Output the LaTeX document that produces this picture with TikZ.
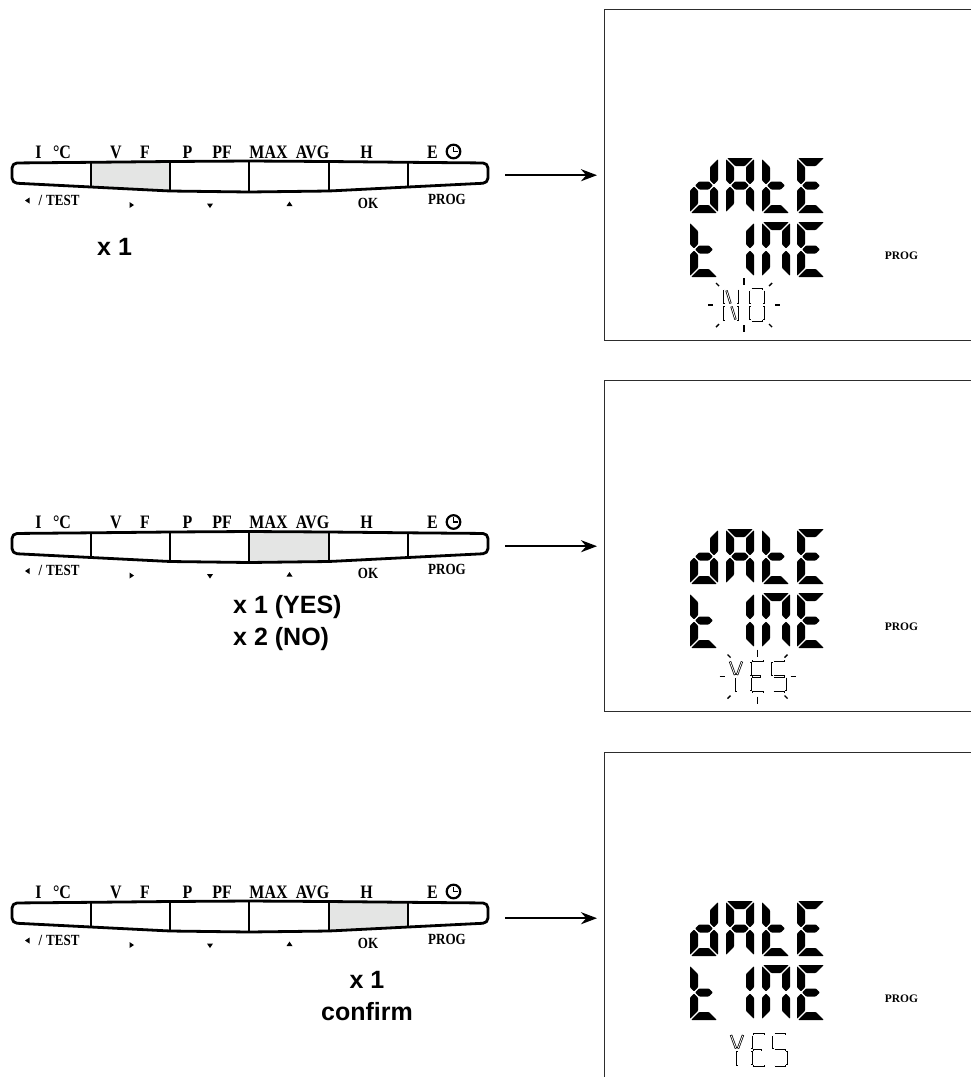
\documentclass[tikz,border=0pt]{standalone}
\usepackage{fontspec}
\setmainfont{Liberation Serif}
\newfontfamily\keyfont[FakeStretch=0.84]{Liberation Serif}
\newfontfamily\cntfont{Liberation Sans}
\usetikzlibrary{arrows.meta,calc}
\definecolor{keygray}{RGB}{228,229,228}
\definecolor{boxline}{RGB}{45,45,45}

\tikzset{
  kpline/.style={line width=2.8pt, line join=round},
  toplab/.style={font=\keyfont\bfseries\fontsize{19}{19}\selectfont, anchor=base, inner sep=0pt},
  botlab/.style={font=\keyfont\bfseries\fontsize{15.5}{15.5}\selectfont, anchor=base, inner sep=0pt},
  cnt/.style={font=\cntfont\bfseries\fontsize{25}{30}\selectfont, inner sep=0pt},
  lcdbox/.style={draw=boxline, line width=1.4pt, minimum width=372pt, minimum height=331pt, anchor=north west, inner sep=0pt},
  arr/.style={line width=2.2pt, -{Stealth[length=16pt,width=12pt]}},
  lcdlab/.style={font=\bfseries\fontsize{11.5}{11.5}\selectfont, anchor=base, inner sep=0pt},
  bseg/.style={fill=black, rounded corners=0.8pt},
  tsegout/.style={line width=2.3pt},
  tsegin/.style={white, line width=0.8pt, shorten <=0.75pt, shorten >=0.75pt},
  ray/.style={line width=1.4pt},
}

% big 7-segment pieces (local coords, y down, digit 28 x 55)
\newcommand\sgA{\fill[bseg] (1.1,0) -- (26.9,0) -- (18.9,8) -- (9.1,8) -- cycle;}
\newcommand\sgD{\fill[bseg] (1.1,55) -- (26.9,55) -- (18.9,47) -- (9.1,47) -- cycle;}
\newcommand\sgF{\fill[bseg] (0,1.1) -- (8,9.1) -- (8,22.4) -- (4,26.4) -- (0,22.4) -- cycle;}
\newcommand\sgE{\fill[bseg] (0,53.9) -- (8,45.9) -- (8,32.6) -- (4,28.6) -- (0,32.6) -- cycle;}
\newcommand\sgB{\fill[bseg] (28,1.1) -- (20,9.1) -- (20,22.4) -- (24,26.4) -- (28,22.4) -- cycle;}
\newcommand\sgC{\fill[bseg] (28,53.9) -- (20,45.9) -- (20,32.6) -- (24,28.6) -- (28,32.6) -- cycle;}
\newcommand\sgG{\fill[bseg] (5.1,27.5) -- (9.1,23.5) -- (18.9,23.5) -- (22.9,27.5) -- (18.9,31.5) -- (9.1,31.5) -- cycle;}
\newcommand\dgt[2]{\begin{scope}[shift={#1}]#2\end{scope}}

% thin outlined segments
\newcommand\tl[2]{\draw[tsegout] #1 -- #2; \draw[tsegin] #1 -- #2;}
\newcommand\thinN[1]{\begin{scope}[shift={#1}]
  \tl{(1.2,1.5)}{(1.2,16)}\tl{(1.2,18)}{(1.2,32.5)}
  \tl{(14.8,1.5)}{(14.8,16)}\tl{(14.8,18)}{(14.8,32.5)}
  \tl{(3.5,2.5)}{(7.5,15.5)}\tl{(8.5,18.5)}{(12.5,31.5)}\end{scope}}
\newcommand\thinO[1]{\begin{scope}[shift={#1}]
  \tl{(2.5,1.2)}{(13.5,1.2)}\tl{(2.5,32.8)}{(13.5,32.8)}
  \tl{(1.2,2.5)}{(1.2,16)}\tl{(1.2,18)}{(1.2,31.5)}
  \tl{(14.8,2.5)}{(14.8,16)}\tl{(14.8,18)}{(14.8,31.5)}\end{scope}}
\newcommand\thinY[1]{\begin{scope}[shift={#1}]
  \tl{(2,2)}{(7,15.5)}\tl{(14,2)}{(9,15.5)}\tl{(8,18)}{(8,32.5)}\end{scope}}
\newcommand\thinE[1]{\begin{scope}[shift={#1}]
  \tl{(1.2,2.5)}{(1.2,16)}\tl{(1.2,18)}{(1.2,31.5)}
  \tl{(2.5,1.2)}{(14,1.2)}\tl{(2.5,17)}{(11,17)}\tl{(2.5,32.8)}{(14,32.8)}\end{scope}}
\newcommand\thinS[1]{\begin{scope}[shift={#1}]
  \tl{(2.5,1.2)}{(13.5,1.2)}\tl{(1.2,2.5)}{(1.2,16)}\tl{(2.5,17)}{(13.5,17)}
  \tl{(14.8,18)}{(14.8,31.5)}\tl{(2.5,32.8)}{(13.5,32.8)}\end{scope}}
\newcommand\rays[3]{\begin{scope}[shift={#1}]
  \draw[ray] (-#2-5,0) -- (-#2,0); \draw[ray] (#2,0) -- (#2+5,0);
  \draw[ray] (0,-#3-7) -- (0,-#3); \draw[ray] (0,#3) -- (0,#3+7);
  \draw[ray] (-#2+6,-#3+1) -- (-#2+3,-#3-2); \draw[ray] (#2-6,-#3+1) -- (#2-3,-#3-2);
  \draw[ray] (-#2+6,#3-1) -- (-#2+3,#3+2); \draw[ray] (#2-6,#3-1) -- (#2-3,#3+2);
\end{scope}}

\newcommand\keypad[3]{\begin{scope}[shift={(0,#1)}]
  \fill[keygray] #3;
  \draw[kpline, rounded corners=5pt] (12,173) -- (12,163) -- (91,162.3) -- (170,161.5) -- (249,161) -- (329,161.5) -- (408,162.3) -- (488,163) -- (488,183) -- (408,187) -- (329,191) -- (249,192) -- (170,191) -- (91,187) -- (12,183) -- cycle;
  \draw[kpline] (91,162.3) -- (91,187) (170,161.5) -- (170,191) (249,161) -- (249,192) (329,161.5) -- (329,191) (408,162.3) -- (408,187);
  \node[toplab] at (38.5,158) {I};
  \node[toplab] at (62,158) {°C};
  \node[toplab] at (116,158) {V};
  \node[toplab] at (145,158) {F};
  \node[toplab] at (187.5,158) {P};
  \node[toplab] at (222,158) {PF};
  \node[toplab] at (268.5,158) {MAX};
  \node[toplab] at (312.5,158) {AVG};
  \node[toplab] at (366.5,158) {H};
  \node[toplab] at (432.5,158) {E};
  \draw[line width=2.2pt] (453.5,151.5) circle[radius=6.8pt];
  \draw[line width=1.8pt] (453.5,146.5) -- (453.5,151.5) -- (458,151.5);
  \fill (25,200.5) -- (29.5,197.5) -- (29.5,203.5) -- cycle;
  \node[botlab] at (40.5,205) {/};
  \node[botlab, anchor=base west] at (46,205) {TEST};
  \fill (129.5,202) -- (129.5,208) -- (134,205) -- cycle;
  \fill (207,203.5) -- (213,203.5) -- (210,208) -- cycle;
  \fill (286.5,206) -- (292.5,206) -- (289.5,201.5) -- cycle;
  \node[botlab] at (368,208) {OK};
  \node[botlab] at (447,204) {PROG};
  \node[inner sep=0pt, minimum width=476pt, minimum height=31pt, anchor=north west] (#2) at (12,161) {};
\end{scope}}

\newcommand\lcdpanel[2]{\begin{scope}[shift={(0,#1)}]
  \node[lcdbox] (#2) at (604,9) {};
  \dgt{(690,158)}{\sgB\sgC\sgD\sgE\sgG}
  \dgt{(726,158)}{\sgA\sgB\sgC\sgE\sgF\sgG}
  \dgt{(762,158)}{\sgD\sgE\sgF\sgG}
  \dgt{(797,158)}{\sgA\sgD\sgE\sgF\sgG}
  \dgt{(690,222)}{\sgD\sgE\sgF\sgG}
  \dgt{(726,222)}{\sgB\sgC}
  \dgt{(762,222)}{\sgA\sgB\sgC\sgE\sgF}
  \dgt{(797,222)}{\sgA\sgD\sgE\sgF\sgG}
  \node[lcdlab] at (901.5,259) {PROG};
\end{scope}}

\begin{document}
\begin{tikzpicture}[x=1pt,y=-1pt]
\useasboundingbox (0,0) rectangle (970,1077);

% ---- panel 1
\keypad{0}{kp1}{(91,162.3) -- (170,161.5) -- (170,191) -- (91,187) -- cycle}
\lcdpanel{0}{lcd1}
\draw[arr, shorten <=17pt, shorten >=7pt] (kp1.east |- lcd1.west) -- (lcd1.west);
\node[cnt, anchor=base west] (c1) at (97,255) {x 1};
\thinN{(723,288)}
\thinO{(749,288)}
\rays{(744,305)}{31}{20}

% ---- panel 2
\keypad{370.5}{kp2}{(249,161) -- (329,161.5) -- (329,191) -- (249,192) -- cycle}
\lcdpanel{371}{lcd2}
\draw[arr, shorten <=17pt, shorten >=7pt] (kp2.east |- lcd2.west) -- (lcd2.west);
\node[cnt, anchor=base west] (c2a) at (233,613) {x 1 (YES)};
\node[cnt, anchor=base west] (c2b) at (233,645) {x 2 (NO)};
\thinY{(728,659.5)}
\thinE{(749.5,659.5)}
\thinS{(771,659.5)}
\rays{(757.5,676.5)}{33}{20}

% ---- panel 3
\keypad{740}{kp3}{(329,161.5) -- (408,162.3) -- (408,187) -- (329,191) -- cycle}
\lcdpanel{743}{lcd3}
\draw[arr, shorten <=17pt, shorten >=7pt] (kp3.east |- lcd3.west) -- (lcd3.west);
\node[cnt, anchor=base] (c3a) at (367,988) {x 1};
\node[cnt, anchor=base] (c3b) at (367,1020) {confirm};
\thinY{(729,1033)}
\thinE{(750.5,1033)}
\thinS{(772,1033)}
\end{tikzpicture}
\end{document}
